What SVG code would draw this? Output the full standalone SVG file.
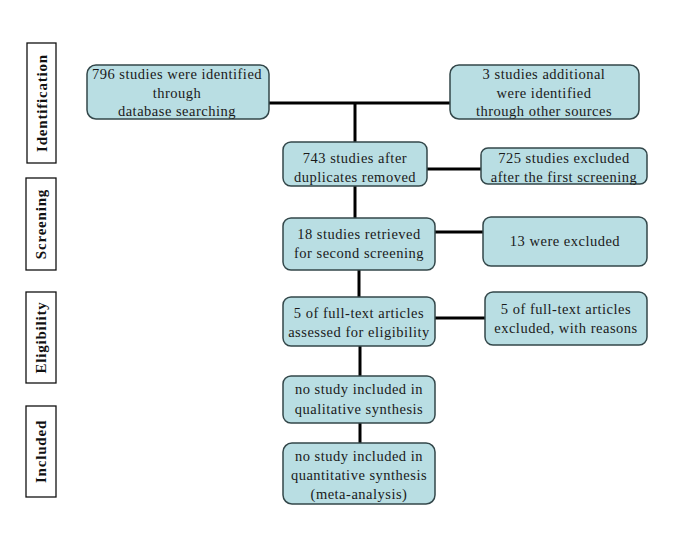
<svg xmlns="http://www.w3.org/2000/svg" width="695" height="543" viewBox="0 0 695 543">
<style>
.bg{fill:#ffffff}
.stage rect{fill:#ffffff;stroke:#111111;stroke-width:1.3}
.stage text{font-family:"Liberation Serif","Times New Roman",serif;font-weight:bold;font-size:15px;fill:#111111;text-anchor:middle;letter-spacing:0.8px}
.node rect{fill:#b9dee3;stroke:#33474a;stroke-width:1.5}
.node text{font-family:"Liberation Serif","Times New Roman",serif;font-size:14.5px;fill:#1a1a1a;text-anchor:middle;letter-spacing:0.5px}
.conn line{stroke:#000000;stroke-width:3;stroke-linecap:butt}
</style>
<rect class="bg" x="0" y="0" width="695" height="543"/>
<g class="stage" id="stage-identification"><rect x="27" y="43" width="29" height="120"/><text transform="translate(46.5,103) rotate(-90)">Identification</text></g>
<g class="stage" id="stage-screening"><rect x="26" y="178" width="30" height="92"/><text transform="translate(46,224) rotate(-90)">Screening</text></g>
<g class="stage" id="stage-eligibility"><rect x="26" y="292" width="30" height="91"/><text transform="translate(46,337.5) rotate(-90)">Eligibility</text></g>
<g class="stage" id="stage-included"><rect x="26" y="406" width="30" height="91"/><text transform="translate(46,451.5) rotate(-90)">Included</text></g>
<g id="connectors" class="conn">
<line x1="269" y1="103" x2="450" y2="103"/>
<line x1="355" y1="103" x2="355" y2="142"/>
<line x1="427" y1="169" x2="481" y2="169"/>
<line x1="355" y1="186" x2="355" y2="218"/>
<line x1="435" y1="232" x2="484" y2="232"/>
<line x1="359" y1="270" x2="359" y2="297"/>
<line x1="435" y1="318" x2="485" y2="318"/>
<line x1="360" y1="346" x2="360" y2="376"/>
<line x1="360" y1="423" x2="360" y2="443"/>
</g>
<g class="node" id="n-identified"><rect x="87" y="65" width="182" height="54" rx="9"/><text x="177" y="79">796 studies were identified</text><text x="177" y="98">through</text><text x="177" y="116">database searching</text></g>
<g class="node" id="n-other"><rect x="450" y="65" width="189" height="54" rx="9"/><text x="544" y="79">3 studies additional</text><text x="544" y="98">were identified</text><text x="544" y="116">through other sources</text></g>
<g class="node" id="n-dup"><rect x="283" y="142" width="144" height="44" rx="8"/><text x="355" y="163">743 studies after</text><text x="355" y="182">duplicates removed</text></g>
<g class="node" id="n-excl1"><rect x="481" y="148" width="166" height="36" rx="7"/><text x="564" y="163">725 studies excluded</text><text x="564" y="182">after the first screening</text></g>
<g class="node" id="n-retrieved"><rect x="283" y="218" width="152" height="52" rx="8"/><text x="359" y="239">18 studies retrieved</text><text x="359" y="258">for second screening</text></g>
<g class="node" id="n-excl2"><rect x="483" y="217" width="164" height="49" rx="8"/><text x="565" y="246">13 were excluded</text></g>
<g class="node" id="n-fulltext"><rect x="283" y="297" width="152" height="49" rx="8"/><text x="359" y="318">5 of full-text articles</text><text x="359" y="337">assessed for eligibility</text></g>
<g class="node" id="n-excl3"><rect x="485" y="292" width="162" height="53" rx="8"/><text x="566" y="314">5 of full-text articles</text><text x="566" y="333">excluded, with reasons</text></g>
<g class="node" id="n-qual"><rect x="283" y="376" width="152" height="47" rx="8"/><text x="359" y="394">no study included in</text><text x="359" y="414">qualitative synthesis</text></g>
<g class="node" id="n-quant"><rect x="283" y="443" width="152" height="61" rx="9"/><text x="359" y="461">no study included in</text><text x="359" y="480">quantitative synthesis</text><text x="359" y="499">(meta-analysis)</text></g>
</svg>
